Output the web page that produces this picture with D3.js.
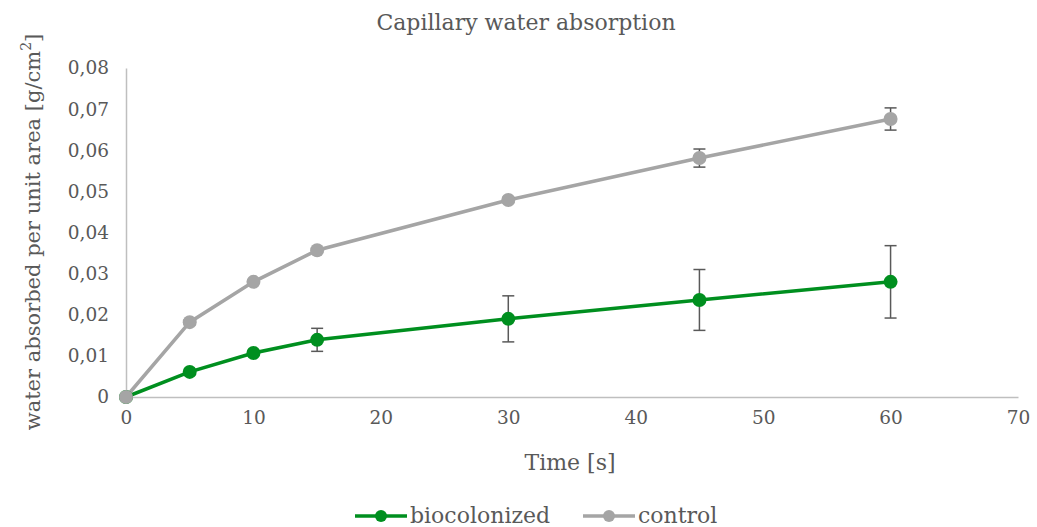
<!DOCTYPE html>
<html>
<head>
<meta charset="utf-8">
<script src="https://cdn.jsdelivr.net/npm/d3@7"></script>
<style>
  body { margin: 0; background: #fff; }
  svg text { fill: #595959; }
</style>
</head>
<body>
<svg></svg>
<script>

const w = 1037;
const h = 527;

const times = [0, 5, 10, 15, 30, 45, 60];
const bioValues = [0, 0.0061, 0.0107, 0.0139, 0.019, 0.0236, 0.028];
const bioErrors = [0, 0.0003, 0.0003, 0.0028, 0.0056, 0.0074, 0.0088];
const controlValues = [0, 0.0182, 0.028, 0.0357, 0.0479, 0.0581, 0.0676];
const controlErrors = [0, 0.0006, 0.0003, 0.0004, 0.0006, 0.0022, 0.0027];
const xTicks = [0, 10, 20, 30, 40, 50, 60, 70];
const yTicks = [0, 0.01, 0.02, 0.03, 0.04, 0.05, 0.06, 0.07, 0.08];

const series = [
    { name: "biocolonized", values: bioValues, errors: bioErrors, color: "#008f1f" },
    { name: "control", values: controlValues, errors: controlErrors, color: "#a5a5a5" }
];

// Liberation Serif did not show up, DejaVu Serif does
const serif = "DejaVu Serif";

let svg = d3.select("svg")
    .attr("width", w)
    .attr("height", h)
    .attr("font-family", serif);

let xScale = d3.scaleLinear().domain([0, 70]).range([126, 1018]);
let yScale = d3.scaleLinear().domain([0, 0.08]).range([397, 68]);

// axes
let xAxis = d3.axisBottom(xScale).tickValues(xTicks).tickSize(0).tickPadding(14);
let gx = svg.append("g").attr("transform", `translate(0, ${yScale(0)})`).call(xAxis)
    .attr("font-family", serif).attr("font-size", 18.5);
gx.select(".domain").attr("stroke", "#bfbfbf").attr("stroke-width", 1.5);
gx.selectAll("text").attr("fill", "#595959");

let yAxis = d3.axisLeft(yScale).tickValues(yTicks).tickSize(0).tickPadding(17)
    .tickFormat(d => d === 0 ? "0" : d3.format(".2f")(d).replace(".", ","));
let gy = svg.append("g").attr("transform", `translate(${xScale(0)}, 0)`).call(yAxis)
    .attr("font-family", serif).attr("font-size", 18.5);
gy.select(".domain").attr("stroke", "#bfbfbf").attr("stroke-width", 1.5);
gy.selectAll("text").attr("fill", "#595959");

// lines
let line = d3.line().x((d, i) => xScale(times[i])).y(d => yScale(d));

series.forEach(s => {
    svg.append("path")
       .datum(s.values)
       .attr("d", line)
       .attr("fill", "none")
       .attr("stroke", s.color)
       .attr("stroke-width", 3.5);
});

// error bars
series.forEach(s => {
    let g = svg.append("g");
    s.values.forEach((v, i) => {
        let e = s.errors[i];
        if (e <= 0) return;
        let x = xScale(times[i]);
        let y1 = yScale(v + e), y2 = yScale(v - e);
        g.append("line").attr("x1", x).attr("x2", x).attr("y1", y1).attr("y2", y2)
         .attr("stroke", "#595959").attr("stroke-width", 1.5);
        [y1, y2].forEach(y => {
            g.append("line").attr("x1", x - 6).attr("x2", x + 6).attr("y1", y).attr("y2", y)
             .attr("stroke", "#595959").attr("stroke-width", 1.5);
        });
    });
});

// markers
series.forEach(s => {
    svg.selectAll(null)
       .data(s.values)
       .enter()
       .append("circle")
       .attr("cx", (d, i) => xScale(times[i]))
       .attr("cy", d => yScale(d))
       .attr("r", 7)
       .attr("fill", s.color);
});

// titles
svg.append("text")
   .attr("x", 526).attr("y", 30)
   .attr("text-anchor", "middle")
   .attr("font-size", 22)
   .text("Capillary water absorption");

svg.append("text")
   .attr("x", 570).attr("y", 470)
   .attr("text-anchor", "middle")
   .attr("font-size", 22)
   .text("Time [s]");

let yt = svg.append("text")
   .attr("transform", "translate(40, 232) rotate(-90)")
   .attr("text-anchor", "middle")
   .attr("font-size", 21);
yt.append("tspan").text("water absorbed per unit area [g/cm");
yt.append("tspan").attr("dy", -9).attr("font-size", 14).text("2");
yt.append("tspan").attr("dy", 9).text("]");

// legend
let legend = svg.append("g");
let lx = [355, 583];
series.forEach((s, i) => {
    let g = legend.append("g").attr("transform", `translate(${lx[i]}, 516)`);
    g.append("line").attr("x1", 0).attr("x2", 52).attr("y1", 0).attr("y2", 0)
     .attr("stroke", s.color).attr("stroke-width", 3.5);
    g.append("circle").attr("cx", 26).attr("cy", 0).attr("r", 6).attr("fill", s.color);
    g.append("text").attr("x", 55).attr("y", 7).attr("font-family", serif)
     .attr("font-size", 22).text(s.name);
});

</script>
</body>
</html>
